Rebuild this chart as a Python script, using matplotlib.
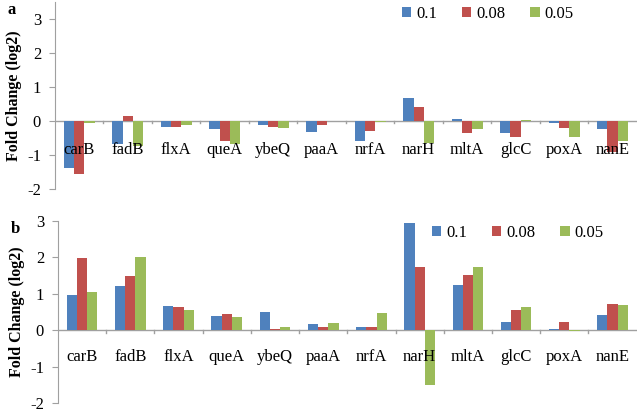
import numpy as np
import matplotlib
matplotlib.use("Agg")
import matplotlib.pyplot as plt

plt.rcParams['font.family'] = ['Liberation Serif', 'DejaVu Serif']
plt.rcParams['axes.unicode_minus'] = False

genes = ['carB', 'fadB', 'flxA', 'queA', 'ybeQ', 'paaA', 'nrfA', 'narH', 'mltA', 'glcC', 'poxA', 'nanE']
series = ['0.1', '0.08', '0.05']
colors = ['#4F81BD', '#C0504D', '#9BBB59']

# panel a
a_01 = [-1.37, -0.68, -0.18, -0.25, -0.12, -0.32, -0.60, 0.68, 0.04, -0.37, -0.07, -0.25]
a_008 = [-1.55, 0.15, -0.17, -0.60, -0.17, -0.12, -0.30, 0.42, -0.35, -0.47, -0.20, -0.92]
a_005 = [-0.07, -0.75, -0.12, -0.68, -0.20, -0.01, -0.03, -0.65, -0.25, 0.03, -0.47, -0.60]

# panel b
b_01 = [0.97, 1.22, 0.67, 0.40, 0.50, 0.17, 0.10, 2.95, 1.25, 0.22, 0.05, 0.42]
b_008 = [1.97, 1.50, 0.63, 0.45, 0.05, 0.10, 0.08, 1.73, 1.52, 0.55, 0.22, 0.73]
b_005 = [1.04, 2.02, 0.56, 0.37, 0.10, 0.20, 0.47, -1.50, 1.74, 0.63, -0.03, 0.69]

fig = plt.figure(figsize=(6.38, 4.12), dpi=100)
ax_a = fig.add_axes([0.0862, 0.5413, 0.912, 0.455])
ax_b = fig.add_axes([0.0909, 0.021, 0.907, 0.443])

x = np.arange(len(genes))
w = 0.212
grey = '#A0A0A0'


def draw(ax, vals, ylim, label_off, letter, leg_anchor):
    for i, (v, c, s) in enumerate(zip(vals, colors, series)):
        ax.bar(x + (i - 1) * w, v, w, color=c, label=s, zorder=2)
    ax.set_xlim(-0.5, len(genes) - 0.5)
    ax.set_ylim(*ylim)
    ax.set_yticks([-2, -1, 0, 1, 2, 3])
    ax.tick_params(axis='y', labelsize=12, length=4, color=grey, pad=6)
    for sp in ['top', 'right', 'bottom']:
        ax.spines[sp].set_visible(False)
    ax.spines['left'].set_color(grey)
    ax.axhline(0, color=grey, lw=1, zorder=1)
    ax.set_xticks([])
    for b in np.arange(0.5, len(genes) - 0.5, 1.0):
        ax.plot([b, b], [0, -0.07 * (ylim[1] - ylim[0]) / 5], color=grey, lw=1, clip_on=False)
    for xi, g in zip(x, genes):
        ax.text(xi, label_off, g, ha='center', va='center', fontsize=12, zorder=3)
    ax.set_ylabel('Fold Change (log2)', fontsize=11.5, fontweight='bold', labelpad=4)
    ax.text(-0.082, ylim[1], letter, transform=ax.get_yaxis_transform(), fontsize=12,
            fontweight='bold', ha='left', va='top')
    ax.legend(ncol=3, loc='center left', bbox_to_anchor=leg_anchor, frameon=False,
              fontsize=12, handlelength=0.55, handleheight=0.55, handletextpad=0.3,
              columnspacing=1.5, borderaxespad=0)


draw(ax_a, [a_01, a_008, a_005], (-2, 3.5), -0.85, 'a', (0.585, 0.935))
draw(ax_b, [b_01, b_008, b_005], (-2, 3), -0.72, 'b', (0.635, 0.935))

fig.savefig('out.png', dpi=100)
